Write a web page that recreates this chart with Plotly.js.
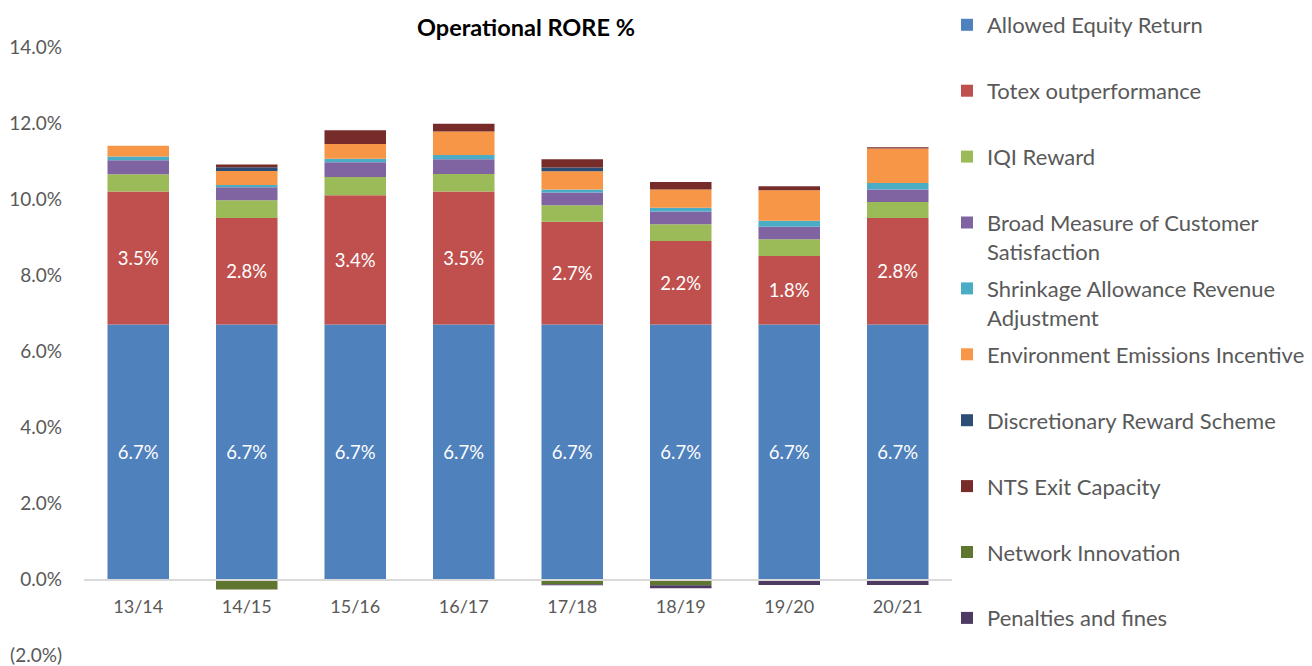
<!DOCTYPE html>
<html>
<head>
<meta charset="utf-8">
<script src="https://cdn.plot.ly/plotly-3.0.1.min.js"></script>
<style>html,body{margin:0;padding:0;background:#fff;}#chart{width:1312px;height:666px;}</style>
</head>
<body>
<div id="chart"></div>
<script>
const categories = ["13/14","14/15","15/16","16/17","17/18","18/19","19/20","20/21"];

const allowedEquity   = [6.7, 6.7, 6.7, 6.7, 6.7, 6.7, 6.7, 6.7];
const totex           = [3.5, 2.8, 3.4, 3.5, 2.7, 2.2, 1.8, 2.8];
const iqiReward       = [0.45, 0.47, 0.48, 0.46, 0.44, 0.44, 0.44, 0.42];
const bmcs            = [0.37, 0.34, 0.39, 0.39, 0.33, 0.33, 0.33, 0.33];
const shrinkage       = [0.10, 0.06, 0.09, 0.11, 0.08, 0.10, 0.16, 0.17];
const environment     = [0.28, 0.37, 0.39, 0.62, 0.48, 0.48, 0.80, 0.91];
const discretionary   = [0, 0.10, 0, 0, 0.10, 0, 0, 0];
const ntsExit         = [0, 0.07, 0.36, 0.20, 0.22, 0.20, 0.11, 0.03];
const networkInnov    = [0, -0.27, 0, 0, -0.13, -0.16, 0, 0];
const penalties       = [0, 0, -0.03, -0.03, -0.03, -0.08, -0.15, -0.15];

const seriesNames = [
  "Allowed Equity Return",
  "Totex outperformance",
  "IQI Reward",
  "Broad Measure of Customer<br>Satisfaction",
  "Shrinkage Allowance Revenue<br>Adjustment",
  "Environment Emissions Incentive",
  "Discretionary Reward Scheme",
  "NTS Exit Capacity",
  "Network Innovation",
  "Penalties and fines"
];
const seriesValues = [allowedEquity, totex, iqiReward, bmcs, shrinkage, environment, discretionary, ntsExit, networkInnov, penalties];
const seriesColors = ["#4F81BD","#C0504D","#9BBB59","#8064A2","#4BACC6","#F79646","#2C4D75","#772C2A","#5F7530","#4D3B62"];
const labelled = [true, true, false, false, false, false, false, false, false, false];

const yTickVals = [-2, 0, 2, 4, 6, 8, 10, 12, 14];
const yTickText = ["(2.0%)","0.0%","2.0%","4.0%","6.0%","8.0%","10.0%","12.0%","14.0%"];

const textColor = "#595959";
const fontFam = "Lato, 'Open Sans', sans-serif";

const traces = seriesNames.map((name, i) => {
  const twoLine = name.indexOf("<br>") >= 0;
  const last = i === seriesNames.length - 1;
  const t = {
    type: "bar",
    name: (twoLine || last) ? name : name + "<br>\u00a0",
    x: categories,
    y: seriesValues[i],
    legendgroup: "g" + i,
    marker: {color: seriesColors[i], line: {width: 0}},
    hoverinfo: "x+y+name"
  };
  if (labelled[i]) {
    t.text = seriesValues[i].map(v => v.toFixed(1) + "%");
    t.textposition = "inside";
    t.insidetextanchor = "middle";
    t.textangle = 0;
    t.textfont = {color: "#ffffff", size: 18.5, family: fontFam};
  } else {
    t.textposition = "none";
  }
  return t;
});

const L = 84, R = 360, T = 47, B = 10;
const plotW = 1312 - L - R, plotH = 666 - T - B;

const layout = {
  width: 1312, height: 666,
  margin: {l: L, r: R, t: T, b: B, autoexpand: false},
  paper_bgcolor: "#ffffff",
  plot_bgcolor: "#ffffff",
  barmode: "relative",
  bargap: 0.433,
  font: {family: fontFam, color: textColor},
  title: {
    text: "<b>Operational RORE %</b>",
    font: {size: 23.5, color: "#000000", family: fontFam},
    xref: "container", x: 526 / 1312, xanchor: "center",
    yref: "container", y: 1 - 28 / 666, yanchor: "middle"
  },
  xaxis: {
    type: "category",
    anchor: "free",
    position: 0.125,
    showline: true,
    linecolor: "#d9d9d9",
    linewidth: 2.5,
    ticks: "",
    ticklabelstandoff: 10,
    tickfont: {size: 18, color: textColor, family: fontFam},
    showgrid: false,
    zeroline: false,
    automargin: false,
    fixedrange: true
  },
  yaxis: {
    range: [-2.02, 14],
    tickvals: yTickVals,
    ticktext: yTickText,
    showgrid: false,
    zeroline: false,
    showline: false,
    ticks: "",
    ticklabelstandoff: 21,
    ticklabeloverflow: "allow",
    tickfont: {size: 19, color: textColor, family: fontFam},
    automargin: false,
    fixedrange: true
  },
  showlegend: true,
  legend: {
    x: (947 - L) / plotW, xanchor: "left",
    y: 1 + (T - 4) / plotH, yanchor: "top",
    traceorder: "grouped",
    tracegroupgap: 5.7,
    valign: "top",
    maxheight: 666,
    font: {size: 22, color: textColor, family: fontFam},
    bgcolor: "rgba(0,0,0,0)",
    itemclick: false, itemdoubleclick: false
  }
};

Plotly.newPlot("chart", traces, layout, {displayModeBar: false, staticPlot: true});
</script>
</body>
</html>
